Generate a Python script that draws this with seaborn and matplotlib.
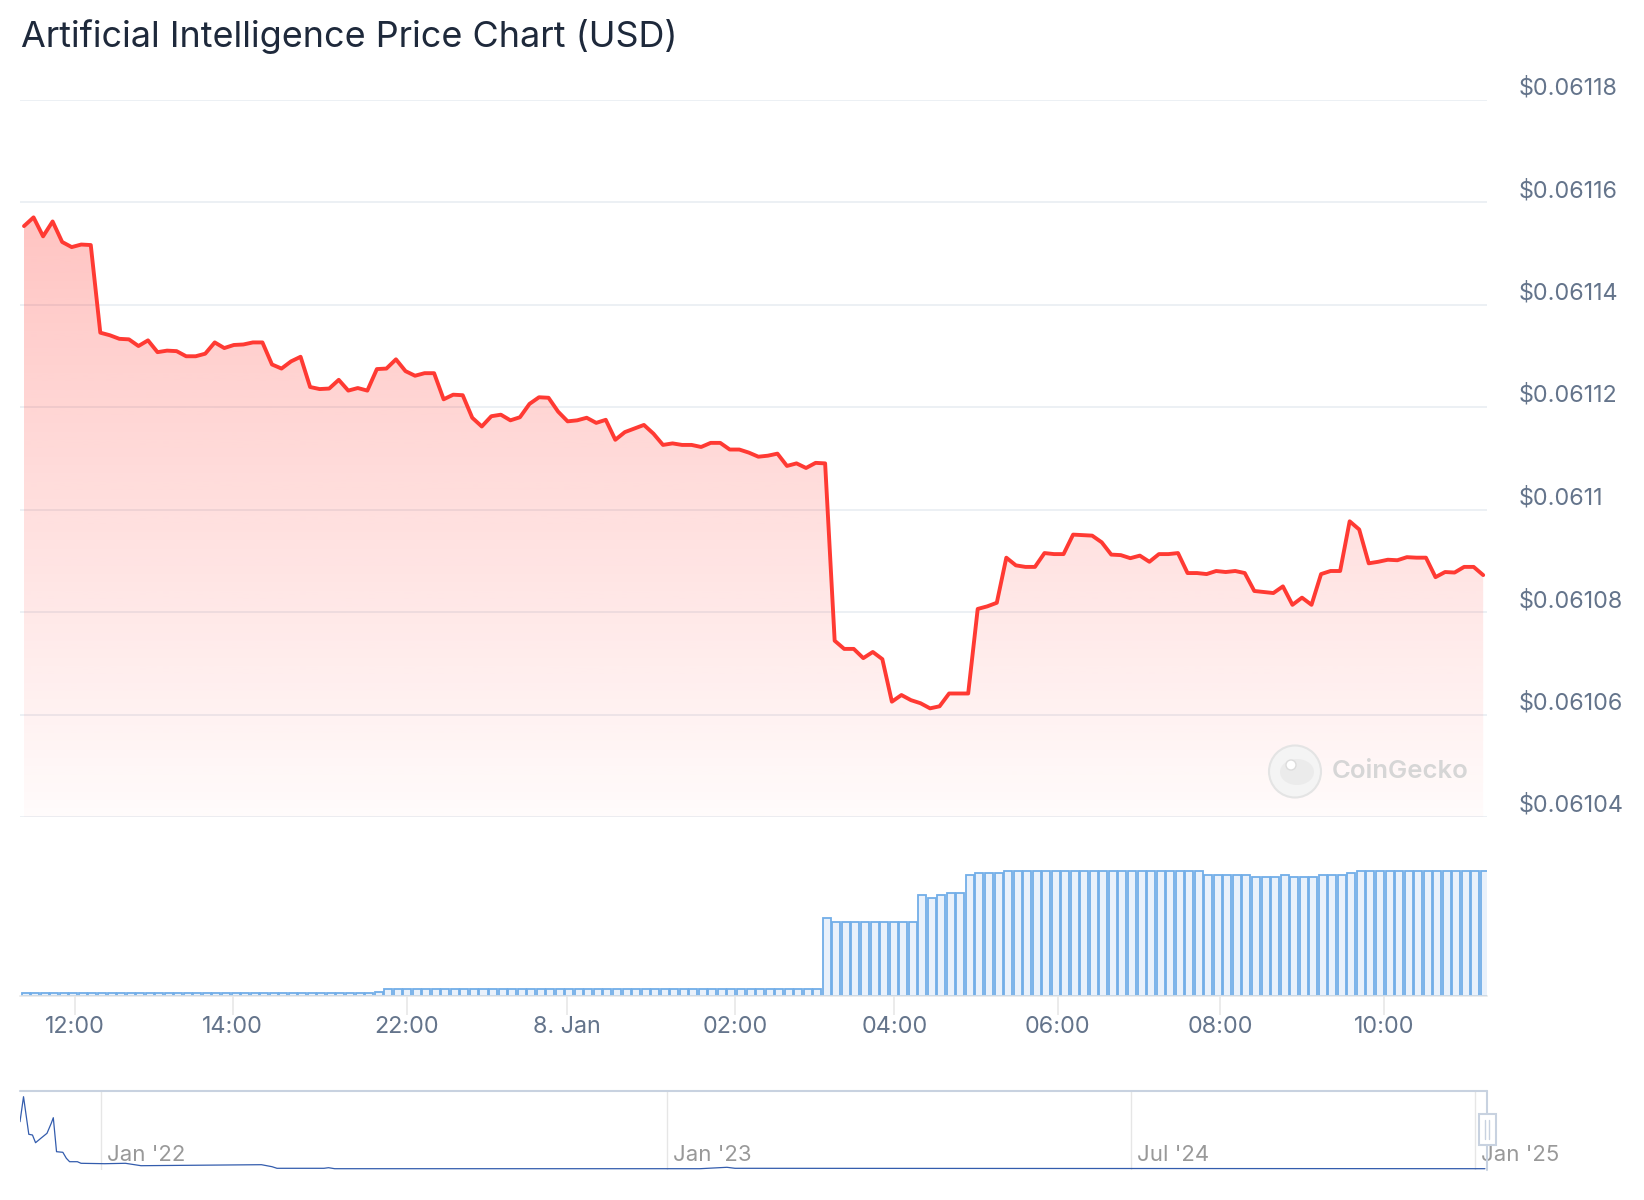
import numpy as np
import pandas as pd
import matplotlib
matplotlib.use("Agg")
import matplotlib.pyplot as plt
import matplotlib.transforms as mtrans
from matplotlib.patches import Rectangle, Circle, Ellipse
from matplotlib.lines import Line2D
import seaborn as sns

# ---------------- data ----------------
TITLE = "Artificial Intelligence Price Chart (USD)"

price_usd = [
    0.0611553, 0.0611570, 0.0611533, 0.0611562, 0.0611522, 0.0611512, 0.0611517, 0.0611516, 0.0611345, 0.0611340,
    0.0611333, 0.0611332, 0.0611319, 0.0611330, 0.0611307, 0.0611310, 0.0611309, 0.0611299, 0.0611299, 0.0611304,
    0.0611326, 0.0611315, 0.0611321, 0.0611322, 0.0611326, 0.0611326, 0.0611283, 0.0611275, 0.0611289, 0.0611298,
    0.0611239, 0.0611235, 0.0611236, 0.0611253, 0.0611232, 0.0611237, 0.0611232, 0.0611274, 0.0611275, 0.0611293,
    0.0611270, 0.0611261, 0.0611266, 0.0611266, 0.0611215, 0.0611224, 0.0611223, 0.0611179, 0.0611162, 0.0611182,
    0.0611185, 0.0611174, 0.0611180, 0.0611206, 0.0611219, 0.0611218, 0.0611191, 0.0611172, 0.0611174, 0.0611179,
    0.0611169, 0.0611175, 0.0611136, 0.0611151, 0.0611158, 0.0611165, 0.0611148, 0.0611126, 0.0611129, 0.0611126,
    0.0611126, 0.0611122, 0.0611130, 0.0611130, 0.0611117, 0.0611117, 0.0611111, 0.0611103, 0.0611105, 0.0611109,
    0.0611085, 0.0611090, 0.0611081, 0.0611091, 0.0611090, 0.0610744, 0.0610728, 0.0610728, 0.0610710, 0.0610722,
    0.0610708, 0.0610625, 0.0610638, 0.0610628, 0.0610622, 0.0610612, 0.0610616, 0.0610641, 0.0610641, 0.0610641,
    0.0610806, 0.0610811, 0.0610818, 0.0610906, 0.0610891, 0.0610888, 0.0610888, 0.0610915, 0.0610913, 0.0610913,
    0.0610951, 0.0610950, 0.0610949, 0.0610936, 0.0610912, 0.0610911, 0.0610905, 0.0610910, 0.0610898, 0.0610913,
    0.0610913, 0.0610915, 0.0610876, 0.0610876, 0.0610874, 0.0610880, 0.0610878, 0.0610880, 0.0610876, 0.0610841,
    0.0610839, 0.0610837, 0.0610850, 0.0610814, 0.0610828, 0.0610814, 0.0610874, 0.0610880, 0.0610880, 0.0610977,
    0.0610961, 0.0610895, 0.0610898, 0.0610902, 0.0610901, 0.0610907, 0.0610906, 0.0610906, 0.0610868, 0.0610878,
    0.0610877, 0.0610888, 0.0610888, 0.0610872,
]

volume_rel = [
    3, 3, 3, 3, 3, 3, 3, 3, 3, 3,
    3, 3, 3, 3, 3, 3, 3, 3, 3, 3,
    3, 3, 3, 3, 3, 3, 3, 3, 3, 3,
    3, 3, 3, 3, 3, 3, 3, 4.5, 7, 7,
    7, 7, 7, 7, 7, 7, 7, 7, 7, 7,
    7, 7, 7, 7, 7, 7, 7, 7, 7, 7,
    7, 7, 7, 7, 7, 7, 7, 7, 7, 7,
    7, 7, 7, 7, 7, 7, 7, 7, 7, 7,
    7, 7, 7, 7, 78.3, 74.3, 74.3, 74.3, 74.3, 74.3,
    74.3, 74.3, 74.3, 74.3, 100.7, 98.3, 100.7, 102.7, 102.7, 120.7,
    122.7, 122.7, 122.7, 124.7, 124.7, 124.7, 124.7, 124.7, 124.7, 124.7,
    124.7, 124.7, 124.7, 124.7, 124.7, 124.7, 124.7, 124.7, 124.7, 124.7,
    124.7, 124.7, 124.7, 124.7, 120.7, 120.7, 120.7, 120.7, 120.7, 118.7,
    118.7, 118.7, 120.7, 118.7, 118.7, 118.7, 120.7, 120.7, 120.7, 122.7,
    124.7, 124.7, 124.7, 124.7, 124.7, 124.7, 124.7, 124.7, 124.7, 124.7,
    124.7, 124.7, 124.7, 124.7,
]

x_tick_labels = ["12:00", "14:00", "22:00", "8. Jan", "02:00", "04:00", "06:00", "08:00", "10:00"]
y_tick_values = [0.06104, 0.06106, 0.06108, 0.06110, 0.06112, 0.06114, 0.06116, 0.06118]
y_tick_labels = [r"\$0.06104", r"\$0.06106", r"\$0.06108", r"\$0.0611",
                 r"\$0.06112", r"\$0.06114", r"\$0.06116", r"\$0.06118"]

# navigator (whole history, ordinal positions 0..1)
nav_pos = [0.0, 0.0024, 0.0060, 0.0085, 0.0106, 0.0142, 0.0184, 0.0213, 0.0227, 0.0249,
           0.0292, 0.0316, 0.0338, 0.0391, 0.0416, 0.0577, 0.0719, 0.0825, 0.1646, 0.1718,
           0.1752, 0.2072, 0.2103, 0.2145, 0.4635, 0.4819, 0.4874, 0.9986]
nav_val = [47.8, 72.8, 35.2, 34.5, 26.8, 31.2, 36.2, 46.2, 51.8, 17.8,
           17.2, 11.2, 7.8, 7.8, 6.2, 5.8, 6.2, 3.8, 4.8, 2.8,
           1.2, 1.2, 1.8, 0.8, 0.8, 2.2, 1.2, 0.8]
nav_tick_labels = ["Jan '22", "Jan '23", "Jul '24", "Jan '25"]

# ---------------- layout ----------------
x_tick_idx = [5.35, 21.87, 40.15, 56.92, 74.57, 91.27, 108.38, 125.4, 142.6]
nav_tick_pos = [0.0552, 0.4413, 0.7573, 0.9918]
BAR_SHIFT = 0.18

sns.set_theme(style="white")
plt.rcParams['font.family'] = ['Inter', 'DejaVu Sans']

W, H = 1644, 1200
fig = plt.figure(figsize=(W / 100, H / 100), dpi=100)
fig.patch.set_facecolor("white")


def rect(l, t, r, b):
    return [l / W, 1 - b / H, (r - l) / W, (b - t) / H]


LABEL_COLOR = "#64748b"
RED = "#ff3a33"

# ---------- price panel ----------
ax = fig.add_axes(rect(20, 99.5, 1487, 817))
df = pd.DataFrame({"idx": np.arange(len(price_usd)), "price": price_usd})
xlo, xhi = -0.42, 153.4
ymin, ymax = y_tick_values[0], y_tick_values[-1]

fb = ax.fill_between(df["idx"], df["price"], ymin, facecolor="none", edgecolor="none")
grad = np.zeros((256, 1, 4))
grad[..., 0] = 1.0
grad[..., 1] = 58 / 255
grad[..., 2] = 51 / 255
grad[:, 0, 3] = np.linspace(0.30, 0.02, 256)
im = ax.imshow(grad, extent=[xlo, xhi, ymin, max(price_usd)], aspect="auto",
               origin="upper", zorder=1, interpolation="bilinear")
im.set_clip_path(fb.get_paths()[0], ax.transData)

sns.lineplot(data=df, x="idx", y="price", ax=ax, color=RED, linewidth=2.8, zorder=3)

ax.set_xlim(xlo, xhi)
ax.set_ylim(ymin, ymax)
ax.set_xticks([])
ax.set_yticks(y_tick_values, labels=y_tick_labels)
ax.yaxis.tick_right()
ax.tick_params(axis="y", length=0, pad=23, labelsize=16.8, labelcolor=LABEL_COLOR, right=False)
for t in ax.get_yticklabels():
    t.set_va("bottom")
ax.grid(axis="y", color="#e9edf2", linewidth=1.2)
ax.set_axisbelow(True)
for s in ax.spines.values():
    s.set_visible(False)
ax.set_xlabel("")
ax.set_ylabel("")
ax.patch.set_alpha(0)

# ---------- volume panel ----------
axv = fig.add_axes(rect(20, 860, 1487, 996))
dfv = pd.DataFrame({"idx": np.arange(len(volume_rel)), "vol": volume_rel})
sns.barplot(data=dfv, x="idx", y="vol", ax=axv, color="#e9f1fb", saturation=1,
            edgecolor="#72aee8", linewidth=1.3, width=0.84, errorbar=None)
for p in axv.patches:
    p.set_x(p.get_x() + BAR_SHIFT)
axv.set_xlim(xlo, xhi)
axv.set_ylim(0, 136)
axv.set_xticks(x_tick_idx, labels=x_tick_labels)
axv.tick_params(axis="x", bottom=True, length=13.7, width=1.1, color="#e6e6e6",
                labelcolor=LABEL_COLOR, labelsize=16.8, pad=0.5, direction="out")
axv.set_yticks([])
for k in ("top", "left", "right"):
    axv.spines[k].set_visible(False)
axv.spines["bottom"].set_color("#e6e6e6")
axv.spines["bottom"].set_linewidth(1.1)
axv.set_xlabel("")
axv.set_ylabel("")
axv.patch.set_alpha(0)

# ---------- navigator ----------
axn = fig.add_axes(rect(20, 1091, 1487, 1169.5))
for p in nav_tick_pos:
    axn.axvline(p, color="#e6e6e6", linewidth=1.0, zorder=0)
sns.lineplot(x=nav_pos, y=nav_val, ax=axn, color="#335cad", linewidth=0.9)
axn.set_xlim(0, 1)
axn.set_ylim(0, 78.5)
axn.set_xticks([])
axn.set_yticks([])
for s in axn.spines.values():
    s.set_visible(False)
axn.patch.set_alpha(0)
off = mtrans.ScaledTranslation(6 / 100, 0, fig.dpi_scale_trans)
for p, lab in zip(nav_tick_pos, nav_tick_labels):
    axn.text(p, (1169.5 - 1155) / 78.5, lab, transform=axn.get_xaxis_transform() + off,
             ha="left", va="center", fontsize=16, color="#999999", clip_on=False)

outline = "#c8d2e0"
fig.add_artist(Line2D([20 / W, 1487 / W], [1 - 1091 / H] * 2, color=outline, linewidth=1.5))
fig.add_artist(Line2D([1487 / W] * 2, [1 - 1091 / H, 1 - 1169.5 / H], color=outline, linewidth=1.5))
fig.add_artist(Rectangle((1479 / W, 1 - 1145 / H), 16.7 / W, 30.7 / H, transform=fig.transFigure,
                         facecolor="white", edgecolor=outline, linewidth=1.5, zorder=5))
for xx in (1485.3, 1489.3):
    fig.add_artist(Line2D([xx / W] * 2, [1 - 1120 / H, 1 - 1139 / H], color=outline,
                          linewidth=1.0, zorder=6))

# ---------- watermark ----------
ident = mtrans.IdentityTransform()
fig.add_artist(Circle((1295, H - 771.5), 26, transform=ident, facecolor="#f4f4f4",
                      edgecolor="#e4e4e4", linewidth=1.5, zorder=2))
fig.add_artist(Ellipse((1297, H - 772), 34, 26, transform=ident, facecolor="#ebebeb",
                       edgecolor="none", zorder=2))
fig.add_artist(Circle((1291, H - 765), 5, transform=ident, facecolor="white",
                      edgecolor="#dcdcdc", linewidth=1, zorder=3))
fig.text(1332 / W, 1 - 771 / H, "CoinGecko", fontsize=18.5, fontweight="semibold",
         color="#d6d6d6", ha="left", va="center")

# ---------- title ----------
fig.text(21 / W, 1 - 37 / H, TITLE, fontsize=25.9, color="#1e293b", ha="left", va="center")

fig.savefig("out.png", dpi=100, facecolor="white")
